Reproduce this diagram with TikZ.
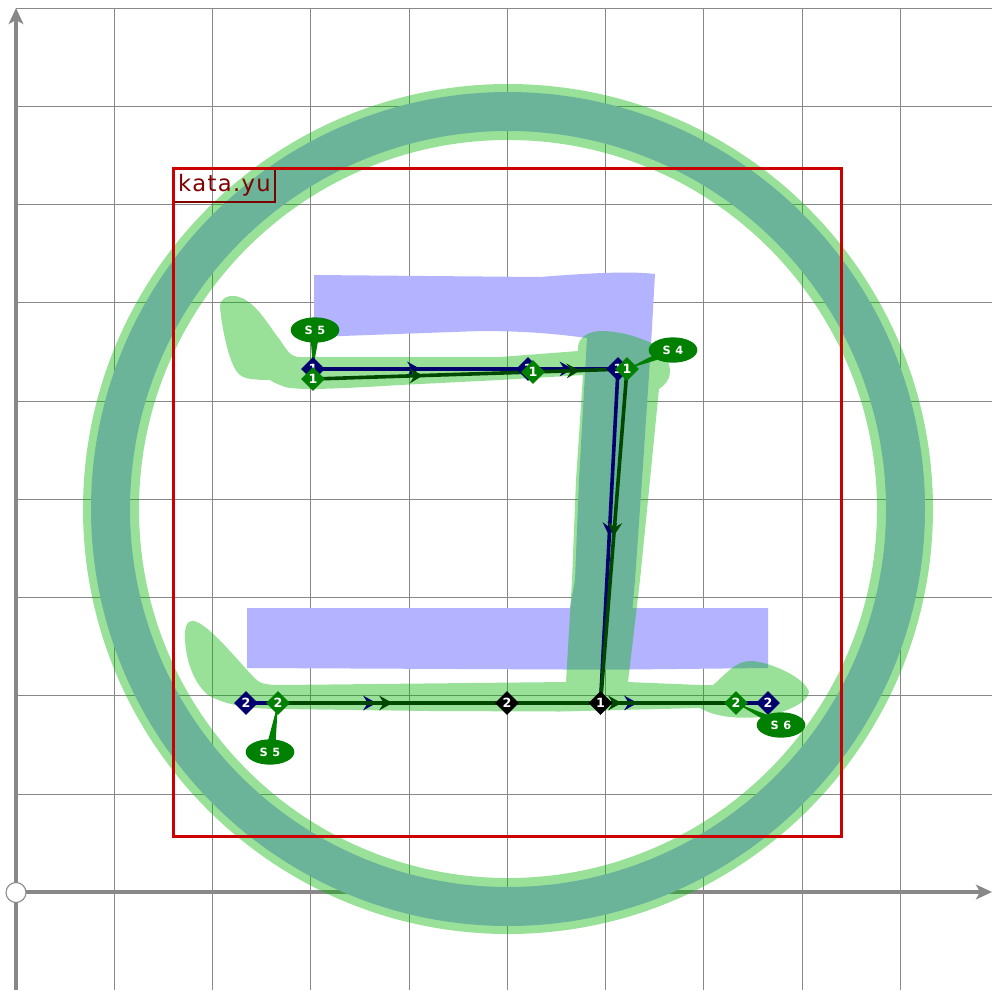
\documentclass[tikz,border=0pt]{standalone}
\usepackage{fontspec}
\setsansfont{DejaVu Sans}
\usetikzlibrary{arrows.meta,decorations.markings,shapes.geometric,calc}
\pgfdeclarelayer{base}
\pgfdeclarelayer{lines}
\pgfsetlayers{base,lines,main}
\definecolor{gridc}{RGB}{136,136,136}
\definecolor{strokeg}{RGB}{0,182,0}
\definecolor{darkg}{RGB}{0,72,0}
\definecolor{midg}{RGB}{0,128,0}
\definecolor{navyc}{RGB}{0,0,110}
\definecolor{framer}{RGB}{204,0,0}
\definecolor{labelr}{RGB}{128,0,0}
\definecolor{bluefill}{RGB}{179,179,255}
\tikzset{
  x=0.75pt,y=-0.75pt,
  gridline/.style={draw=gridc,line width=0.75pt},
  axisline/.style={draw=gridc,line width=3.6pt,-{Stealth[length=12pt,width=11pt,inset=3pt]}},
  blueink/.style={fill=bluefill},
  greenink/.style={fill=strokeg,fill opacity=0.4},
  dia/.style={diamond,inner sep=0pt,minimum size=18pt,text=white,font=\sffamily\bfseries\fontsize{9.5pt}{10pt}\selectfont},
  nd/.style={dia,fill=navyc},
  gd/.style={dia,fill=midg},
  kd/.style={dia,fill=black},
  tag/.style={ellipse,fill=midg,minimum width=36.5pt,minimum height=19pt,inner sep=0pt,text=white,font=\sffamily\bfseries\fontsize{8.5pt}{9pt}\selectfont\addfontfeature{LetterSpace=6}},
  midarrow/.style={postaction={decorate},decoration={markings,mark=at position 0.5 with {\arrow[#1]{Stealth[length=10pt,width=11pt,inset=3.5pt]}}}},
  navyline/.style={draw=navyc,line width=2.7pt,midarrow={navyc}},
  greenline/.style={draw=darkg,line width=2.7pt,midarrow={darkg}},
  wedge/.style={fill=midg},
}
\begin{document}
\begin{tikzpicture}
\useasboundingbox (0,0) rectangle (992,990);
% nodes
\node[nd] (n1) at (313,369) {1};
\node[nd] (n2) at (528,369) {1};
\node[nd] (n3) at (618,369) {1};
\node[nd] (n4) at (246,703) {2};
\node[nd] (n5) at (768,703) {2};
\node[gd] (g1) at (313,379) {1};
\node[gd] (g2) at (533,372) {1};
\node[gd] (g3) at (627,369) {1};
\node[gd] (g4) at (278,703) {2};
\node[gd] (g5) at (736,703) {2};
\node[kd] (k2) at (507,703) {2};
\node[kd] (k1) at (600.5,703) {1};
\node[tag] (s1) at (315,330) {S 5};
\node[tag] (s2) at (673,350) {S 4};
\node[tag] (s3) at (270,752) {S 5};
\node[tag] (s4) at (781,725) {S 6};
\begin{pgfonlayer}{base}
\fill[white] (0,0) rectangle (992,990);
% grid
\foreach \gx in {114.5,212.5,310.5,409.5,507.5,605.5,703.5,802.5,900.5}
  \draw[gridline] (\gx,8) -- (\gx,990);
\foreach \gy in {8.5,106.5,204.5,302.5,401.5,499.5,597.5,695.5,794.5}
  \draw[gridline] (16,\gy) -- (992,\gy);
% axes
\coordinate (ya) at (16,990);
\coordinate (yb) at (16,8);
\coordinate (xa) at (16,892);
\coordinate (xb) at (992,892);
\draw[axisline] (ya) -- (yb);
\draw[axisline] (xa) -- (xb);
\node[circle,draw=gridc,fill=white,line width=0.8pt,minimum size=15pt,inner sep=0pt] (origin) at (16,892.5) {};
% blue glyph
\path[blueink,even odd rule] (508,509) circle[radius=417] (508,509) circle[radius=378];
\path[blueink] (314,275) -- (540,277) .. controls (590,273) and (630,271) .. (655,274)
  -- (651,345) -- (642,480) -- (635,580) -- (632.5,608) -- (768,608) -- (768,668) -- (628,669.5) -- (566,669.5)
  -- (247,668) -- (247,608) -- (570,608) -- (575,580) -- (579,480) -- (587,338)
  .. controls (550,333) and (520,331) .. (480,331) -- (314,337) -- cycle;
% green glyph
\path[greenink,even odd rule] (508,509) circle[radius=425] (508,509) circle[radius=369];
\path[greenink] (220,307) .. controls (220,298) and (228,295) .. (235,296)
  .. controls (255,299) and (268,325) .. (280,340)
  .. controls (287,350) and (290,357) .. (300,357)
  -- (500,357) -- (578,351) .. controls (577,340) and (584,332) .. (600,331)
  .. controls (620,331) and (640,337) .. (655,345)
  .. controls (665,352) and (670,362) .. (670,372)
  .. controls (669,381) and (665,385) .. (659,389)
  -- (650,480) -- (640,580) -- (628,682) -- (700,685) -- (713,685)
  .. controls (725,675) and (735,661) .. (750,661)
  .. controls (768,661) and (805,677) .. (809,692)
  .. controls (808,703) and (785,712) .. (768,716)
  .. controls (740,720) and (715,717) .. (700,708)
  -- (560,711.5) -- (430,711) -- (280,709)
  .. controls (250,709) and (225,705) .. (208,695)
  .. controls (190,680) and (184,650) .. (185,632)
  .. controls (186,622) and (190,619) .. (197,622)
  .. controls (215,630) and (245,670) .. (258,681)
  .. controls (262,684) and (270,685) .. (280,685)
  -- (566,682) -- (572,580) -- (576,480) -- (583,375) -- (500,380) -- (400,385)
  .. controls (350,388) and (300,391) .. (285,387)
  .. controls (280,385) and (274,383) .. (270,380)
  .. controls (255,380) and (245,379) .. (240,375)
  .. controls (230,368) and (222,330) .. (220,307) -- cycle;
% label and frame
\node[draw=labelr,line width=1.6pt,minimum width=75.5pt,minimum height=24.5pt,inner sep=0pt,text=labelr,font=\sffamily\fontsize{17pt}{18pt}\selectfont\addfontfeature{LetterSpace=6}] (title) at (224.5,185.5) {kata.yu};
\node[draw=framer,line width=2.2pt,minimum width=500.8pt,minimum height=500.8pt,inner sep=0pt] (frame) at (507.5,502.5) {};
\end{pgfonlayer}
\begin{pgfonlayer}{lines}
\draw[navyline] (n1.center) -- (n2.center);
\draw[navyline] (n2.center) -- (n3.center);
\draw[navyline] (n3.center) -- (k1.center);
\draw[navyline] (n4.center) -- (k2.center);
\draw[navyline] (k2.center) -- (n5.center);
\draw[greenline] (g1.center) -- (g2.center);
\draw[greenline] (g2.center) -- (g3.center);
\draw[greenline] (g3.center) -- (k1.center);
\draw[greenline] (g4.center) -- (k2.center);
\draw[greenline] (k2.center) -- (g5.center);
\fill[wedge] ($(s1.center)+(-5,0)$) -- ($(s1.center)+(5,0)$) -- (n1.center) -- cycle;
\fill[wedge] ($(s3.center)+(-5,0)$) -- ($(s3.center)+(5,0)$) -- (g4.center) -- cycle;
\fill[wedge] ($(s2.center)+(0,-5)$) -- ($(s2.center)+(0,5)$) -- (g3.center) -- cycle;
\fill[wedge] ($(s4.center)+(0,-5)$) -- ($(s4.center)+(0,5)$) -- (g5.center) -- cycle;
\end{pgfonlayer}
\end{tikzpicture}
\end{document}
